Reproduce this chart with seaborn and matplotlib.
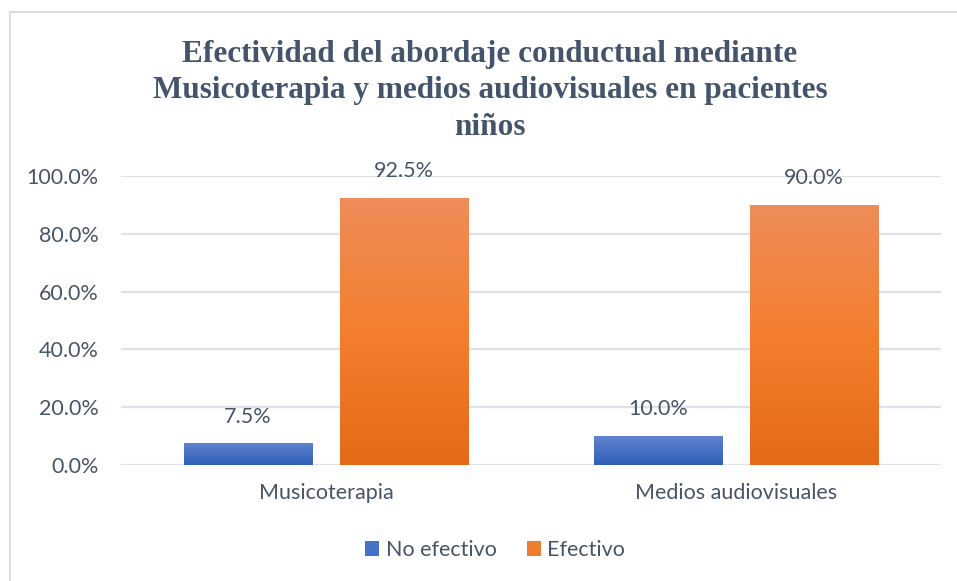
import numpy as np
import pandas as pd
import matplotlib
matplotlib.use("Agg")
import matplotlib.pyplot as plt
from matplotlib.colors import LinearSegmentedColormap
from matplotlib.lines import Line2D
from matplotlib.patches import Patch
import seaborn as sns

categories = ["Musicoterapia", "Medios audiovisuales"]
series = ["No efectivo", "Efectivo"]
no_efectivo = [0.075, 0.10]
efectivo = [0.925, 0.90]
yticks = [0.0, 0.2, 0.4, 0.6, 0.8, 1.0]
title = "Efectividad del abordaje conductual mediante\nMusicoterapia y medios audiovisuales en pacientes\nniños"

df = pd.DataFrame({
    "cat": categories * 2,
    "serie": [series[0]] * 2 + [series[1]] * 2,
    "val": no_efectivo + efectivo,
})

sns.set_style("white")
plt.rcParams["font.family"] = ["Lato", "DejaVu Sans"]
text_col = "#475569"
title_col = "#44546A"
grid_col = "#DEE2E8"
colors = {"No efectivo": "#4472C4", "Efectivo": "#ED7D31"}
grads = {
    "No efectivo": ("#2F5FB8", "#5F83CD"),
    "Efectivo": ("#E36A17", "#F37F2E", "#EF8C5A"),
}
fs = 15.5

fig = plt.figure(figsize=(9.57, 5.81), dpi=100)
ax = fig.add_axes([121 / 957, (581 - 465) / 581, (941 - 121) / 957, (465 - 176) / 581])

sns.barplot(data=df, x="cat", y="val", hue="serie", hue_order=series,
            palette=colors, width=0.763, gap=0.18, ax=ax, legend=False,
            saturation=1)

# gradient fills
for container, name in zip(ax.containers, series):
    cmap = LinearSegmentedColormap.from_list(name, grads[name])
    for bar in container:
        x0, y0 = bar.get_x(), bar.get_y()
        w, h = bar.get_width(), bar.get_height()
        grad = np.linspace(0, 1, 256).reshape(-1, 1)
        im = ax.imshow(grad, cmap=cmap, origin="lower", aspect="auto",
                       extent=[x0, x0 + w, y0, y0 + h], zorder=bar.get_zorder())
        im.set_clip_path(bar)
        bar.set_facecolor("none")
        bar.set_edgecolor("none")
    labels = [f"{v * 100:.1f}%" for v in container.datavalues]
    ax.bar_label(container, labels=labels, padding=12, fontsize=fs,
                 color=text_col, clip_on=False)

ax.set_xlim(-0.5, 1.5)
ax.set_ylim(0, 1.0)
ax.set_yticks(yticks)
ax.set_yticklabels([f"{t * 100:.1f}%" for t in yticks], fontsize=fs, color=text_col)
ax.tick_params(axis="x", labelsize=fs, labelcolor=text_col, length=0, pad=13)
ax.tick_params(axis="y", length=0, pad=16)
ax.set_xlabel("")
ax.set_ylabel("")
ax.yaxis.grid(True, color=grid_col, linewidth=1.6)
ax.set_axisbelow(True)
for s in ax.spines.values():
    s.set_visible(False)

fig.text(490 / 957, 1 - 91 / 581, title, ha="center", va="center",
         fontsize=22.5, fontweight="bold", color=title_col,
         family=["Liberation Serif", "DejaVu Serif"], linespacing=1.32)

handles = [Patch(facecolor=colors[s], edgecolor="none") for s in series]
fig.legend(handles, series, loc="center", bbox_to_anchor=(495 / 957, 1 - 550 / 581),
           ncol=2, frameon=False, fontsize=fs, labelcolor=text_col,
           handlelength=0.65, handleheight=0.65, handletextpad=0.3, columnspacing=1.4)

# chart frame
fig.add_artist(Line2D([9.5 / 957, 9.5 / 957], [0, 1 - 12 / 581], color="#D9DEE6",
                      linewidth=1.5, transform=fig.transFigure))
fig.add_artist(Line2D([9.5 / 957, 1], [1 - 12 / 581, 1 - 12 / 581], color="#D9DEE6",
                      linewidth=1.5, transform=fig.transFigure))

fig.savefig("out.png", dpi=100)
